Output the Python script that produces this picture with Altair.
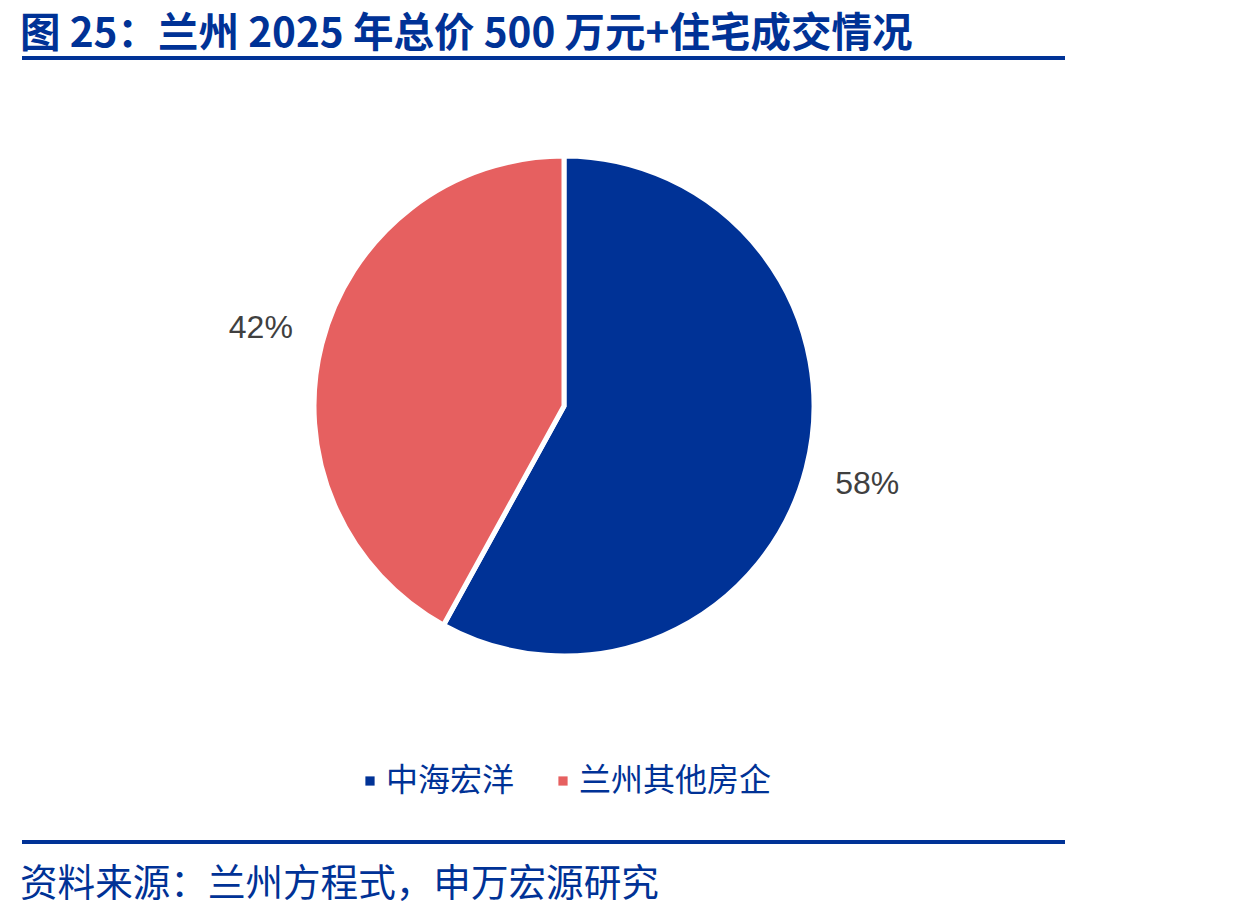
import altair as alt
import pandas as pd

categories = ["中海宏洋", "兰州其他房企"]
shares = [58, 42]
labels = ["58%", "42%"]
colors = ["#003296", "#E66060"]

title_text = "图 25：兰州 2025 年总价 500 万元+住宅成交情况"
source_text = "资料来源：兰州方程式，申万宏源研究"

BLUE = "#003296"
CJK = "Noto Sans CJK SC"

df = pd.DataFrame({"cat": categories, "share": shares, "label": labels, "ord": [0, 1]})

base = alt.Chart(df).encode(
    theta=alt.Theta("share:Q", stack=True),
    order=alt.Order("ord:Q"),
)

arcs = base.mark_arc(outerRadius=250, stroke="white", strokeWidth=5).encode(
    x=alt.value(564),
    y=alt.value(406),
    color=alt.Color(
        "cat:N",
        scale=alt.Scale(domain=categories, range=colors),
        sort=categories,
        legend=alt.Legend(
            title=None,
            orient="none",
            legendX=354,
            legendY=765,
            direction="horizontal",
            symbolType="square",
            symbolSize=85,
            symbolStrokeWidth=0,
            labelFont=CJK,
            labelFontSize=32,
            labelColor=BLUE,
            labelOffset=0,
            labelLimit=400,
            columnPadding=32,
        ),
    ),
)

texts = base.mark_text(radius=313, fontSize=32, font="Liberation Sans", color="#404040").encode(
    x=alt.value(564),
    y=alt.value(406),
    text="label:N",
)

title = alt.Chart(pd.DataFrame({"t": [title_text]})).mark_text(
    align="left", baseline="alphabetic", font=CJK, fontSize=40.5, fontWeight="bold", color=BLUE
).encode(x=alt.value(20), y=alt.value(47), text="t:N")

source = alt.Chart(pd.DataFrame({"t": [source_text]})).mark_text(
    align="left", baseline="middle", font=CJK, fontSize=37.6, color=BLUE
).encode(x=alt.value(20), y=alt.value(885), text="t:N")

rule_df = pd.DataFrame({"k": [0]})
rule_top = alt.Chart(rule_df).mark_rule(color=BLUE, strokeWidth=4).encode(
    x=alt.value(22), x2=alt.value(1065), y=alt.value(58)
)
rule_bot = alt.Chart(rule_df).mark_rule(color=BLUE, strokeWidth=4).encode(
    x=alt.value(22), x2=alt.value(1065), y=alt.value(842)
)

chart = alt.layer(arcs, texts, title, source, rule_top, rule_bot).properties(
    width=1235,
    height=917,
    autosize=alt.AutoSizeParams(type="none"),
    padding=0,
    background="white",
).configure_view(stroke=None)

chart.save("out.html", embed_options={"renderer": "svg", "actions": False})
